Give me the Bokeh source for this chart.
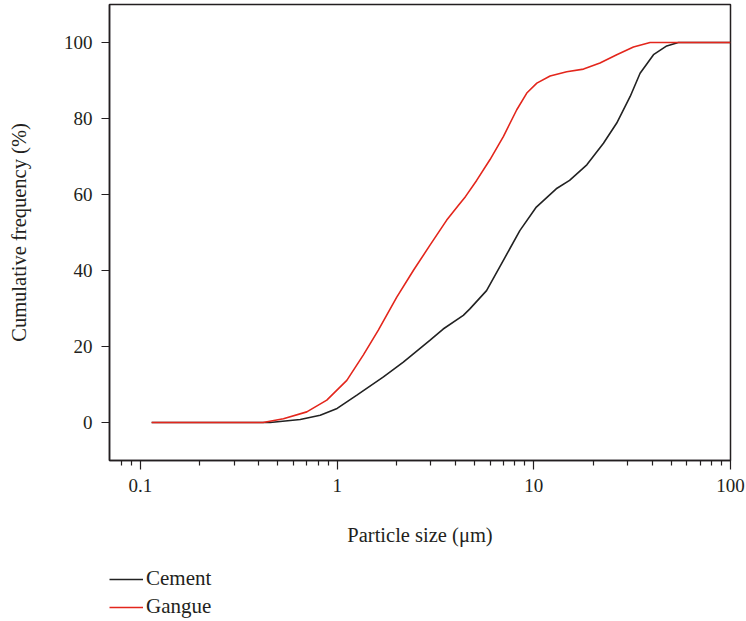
from bokeh.plotting import figure
from bokeh.layouts import column
from bokeh.models import FixedTicker, Legend, LegendItem, CustomJSTickFormatter
from bokeh.embed import file_html
from bokeh.resources import INLINE

cement_size = [0.114, 0.3, 0.456, 0.649, 0.82, 1.0, 1.26, 1.72, 2.17, 2.96, 3.46, 4.38, 4.73,
               5.75, 6.99, 8.49, 10.3, 13.0, 15.2, 18.6, 22.6, 26.4, 30.9, 34.7, 40.6, 47.4,
               54.3, 100]
cement_freq = [0, 0, 0, 0.8, 1.9, 3.7, 7.2, 12.0, 15.9, 21.6, 24.6, 28.2, 29.9,
               34.7, 42.6, 50.5, 56.7, 61.5, 63.7, 67.8, 73.5, 78.8, 85.8, 91.9, 96.8, 99.1,
               100, 100]

gangue_size = [0.114, 0.3, 0.42, 0.533, 0.701, 0.886, 1.12, 1.36, 1.62, 2.01, 2.44, 2.96, 3.6,
               4.13, 4.5, 5.12, 5.99, 7.01, 8.19, 9.21, 10.36, 12.1, 14.7, 17.9, 21.7, 26.4,
               32.1, 39.0, 100]
gangue_freq = [0, 0, 0, 1.0, 2.8, 5.9, 11.1, 17.8, 24.3, 33.0, 40.0, 46.6, 53.2,
               57.1, 59.5, 63.7, 69.2, 75.3, 82.3, 86.7, 89.3, 91.2, 92.3, 93.0, 94.6, 96.8,
               98.8, 100, 100]

series_names = ["Cement", "Gangue"]
x_ticks = [0.1, 1, 10, 100]
x_minor = [0.08, 0.09] + [m * d for d in (0.1, 1, 10) for m in range(2, 10)]
y_ticks = [0, 20, 40, 60, 80, 100]

FONT = "Liberation Serif"
TXT = "#231f20"
BLACK = "#222222"
RED = "#e3261c"

p = figure(width=746, height=550, x_axis_type="log", x_range=(0.0696, 100), y_range=(-10, 110),
           output_backend="svg", toolbar_location=None,
           min_border_left=109, min_border_right=16, min_border_top=4, min_border_bottom=90)
p.grid.visible = False
p.outline_line_color = TXT
p.outline_line_width = 1.5
p.background_fill_color = "white"
p.border_fill_color = "white"

p.line(cement_size, cement_freq, line_color=BLACK, line_width=1.6)
p.line(gangue_size, gangue_freq, line_color=RED, line_width=1.6)

xa = p.xaxis[0]
xa.ticker = FixedTicker(ticks=x_ticks, minor_ticks=x_minor)
xa.formatter = CustomJSTickFormatter(code="return tick.toString();")
xa.axis_label = "Particle size (μm)"
ya = p.yaxis[0]
ya.ticker = FixedTicker(ticks=y_ticks, minor_ticks=[])
ya.axis_label = "Cumulative frequency (%)"

for ax in (xa, ya):
    ax.axis_line_color = TXT
    ax.axis_line_width = 1.5
    ax.major_tick_line_color = TXT
    ax.minor_tick_line_color = TXT
    ax.major_tick_line_width = 1.2
    ax.minor_tick_line_width = 1.2
    ax.major_tick_in = 0
    ax.minor_tick_in = 0
    ax.major_label_text_font = FONT
    ax.major_label_text_font_size = "19px"
    ax.major_label_text_color = TXT
    ax.axis_label_text_font = FONT
    ax.axis_label_text_font_size = "20.5px"
    ax.axis_label_text_font_style = "normal"
    ax.axis_label_text_color = TXT

xa.major_tick_out = 9
xa.minor_tick_out = 5
xa.major_label_standoff = 9
xa.axis_label_standoff = 29
ya.major_tick_out = 8
ya.major_label_standoff = 9
ya.axis_label_standoff = 31

# legend strip below the chart (its frame is aligned with the chart's frame)
p2 = figure(width=746, height=71, x_range=(0, 1), y_range=(0, 1), output_backend="svg",
            toolbar_location=None, x_axis_location=None, y_axis_location=None,
            min_border=0)
p2.grid.visible = False
p2.outline_line_color = None
p2.border_fill_color = "white"
p2.background_fill_color = "white"
lr1 = p2.line([0.5], [0.5], line_color=BLACK, line_width=1.6)
lr2 = p2.line([0.5], [0.5], line_color=RED, line_width=1.6)
legend = Legend(items=[LegendItem(label=series_names[0], renderers=[lr1]),
                       LegendItem(label=series_names[1], renderers=[lr2])],
                location=(0, 2), orientation="vertical")
legend.border_line_color = None
legend.background_fill_alpha = 0
legend.label_text_font = FONT
legend.label_text_font_size = "21px"
legend.label_text_color = TXT
legend.glyph_width = 34
legend.glyph_height = 20
legend.label_height = 20
legend.label_standoff = 3
legend.spacing = 3
legend.padding = 0
legend.margin = 0
p2.add_layout(legend, "center")

layout = column(p, p2, spacing=0)
open("out.html", "w").write(file_html(layout, INLINE))
